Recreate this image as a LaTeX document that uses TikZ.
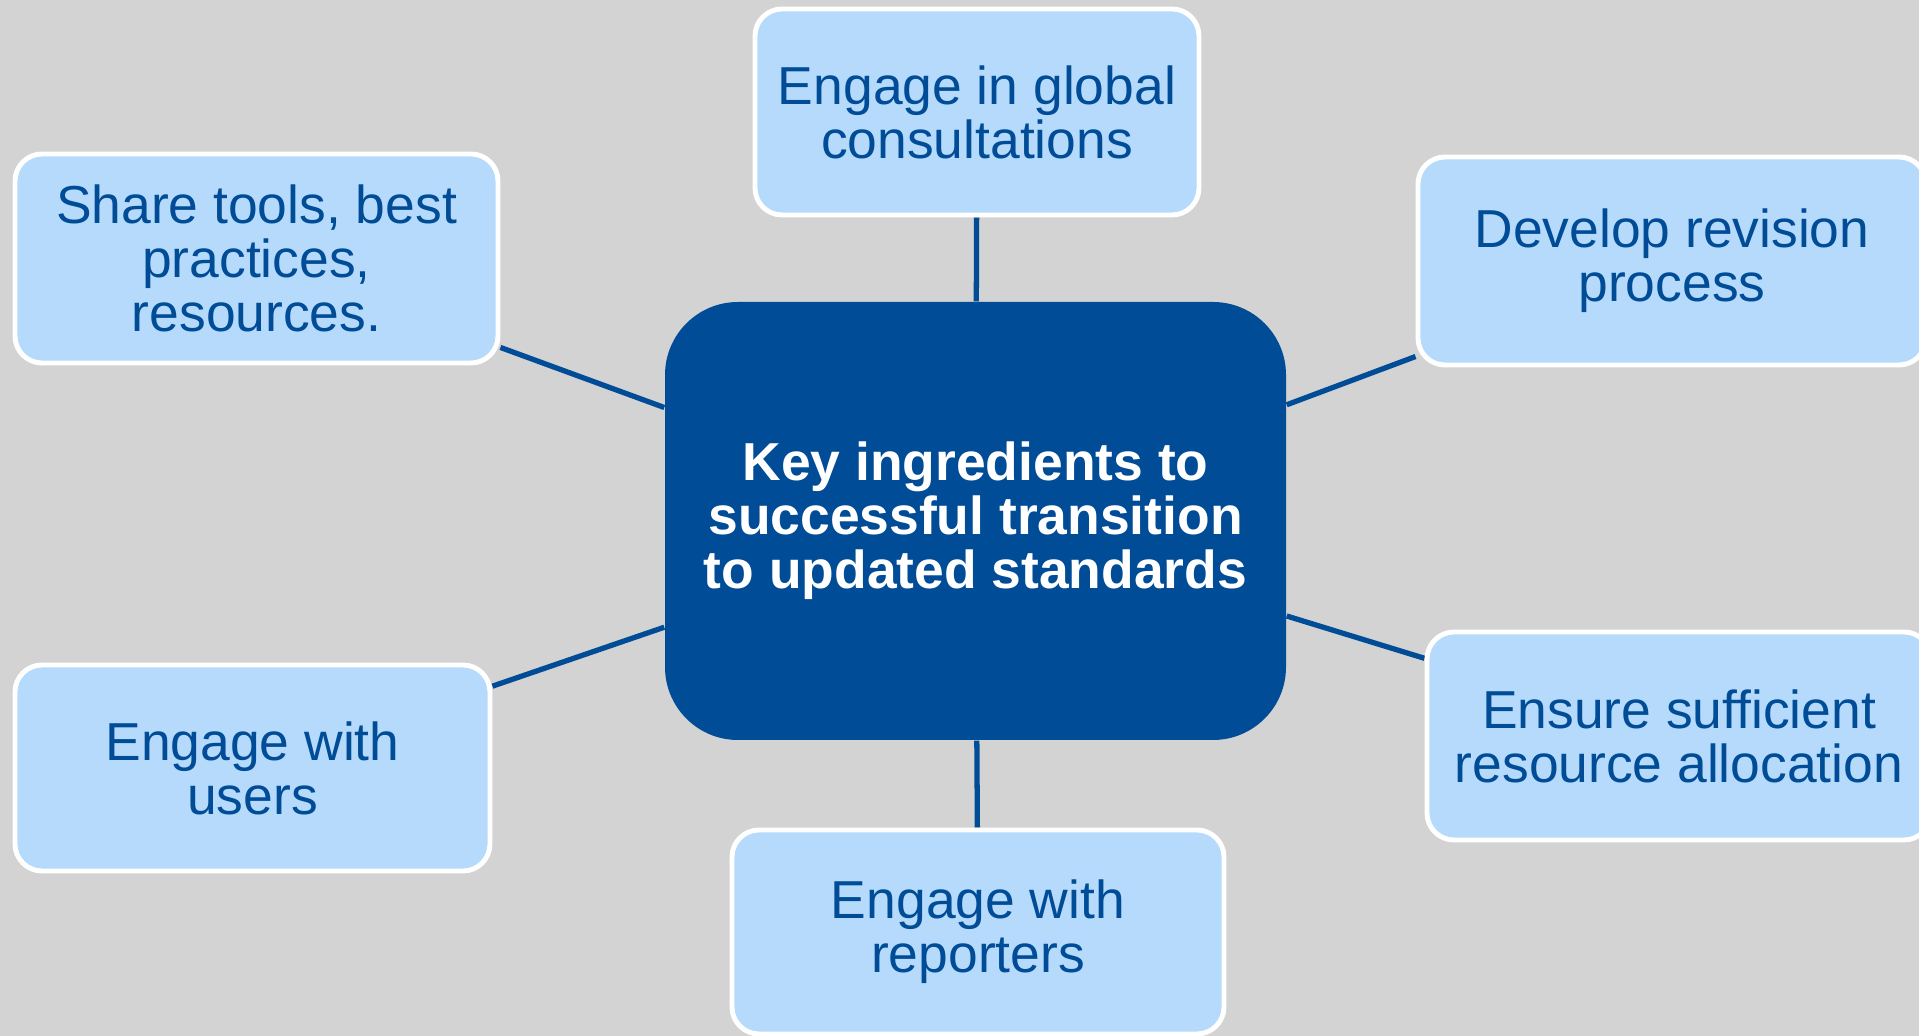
\documentclass[tikz,border=0pt]{standalone}
\usepackage{fontspec}
\setmainfont{Liberation Sans}
\definecolor{darkblue}{HTML}{004C97}
\definecolor{lightblue}{HTML}{B6DAFB}
\definecolor{bggrey}{HTML}{D3D3D3}
\pgfdeclarelayer{lines}
\pgfsetlayers{lines,main}
\begin{document}
\begin{tikzpicture}[
    box/.style={draw=white, line width=1.4pt, fill=lightblue, rounded corners=0.27cm,
      text=darkblue, align=center, inner sep=0pt, font=\fontsize{15.2}{15.4}\selectfont},
    hub/.style={fill=darkblue, rounded corners=0.73cm, text=white, align=center, inner sep=0pt,
      minimum width=6.21cm, minimum height=4.38cm, font=\bfseries\fontsize{15.2}{15.4}\selectfont},
    link/.style={draw=darkblue, line width=1.5pt}]
        \useasboundingbox (0,0) rectangle (19.19,10.36);
        \node[hub] (0) at (9.755,5.15) {Key ingredients to\\successful transition\\to updated standards};
        \node[box, minimum width=4.44cm, minimum height=2.06cm] (1) at (9.77,9.24) {Engage in global\\consultations};
        \node[box, minimum width=4.83cm, minimum height=2.09cm] (2) at (2.565,7.775) {Share tools, best\\practices,\\resources.};
        \node[box, minimum width=5.08cm, minimum height=2.08cm] (3) at (16.72,7.75) {Develop revision\\process};
        \node[box, minimum width=4.75cm, minimum height=2.06cm] (4) at (2.525,2.68) {Engage with\\users};
        \node[box, minimum width=4.92cm, minimum height=2.04cm] (5) at (9.78,1.04) {Engage with\\reporters};
        \node[box, minimum width=5.04cm, minimum height=2.08cm] (6) at (16.79,3.0) {Ensure sufficient\\resource allocation};

        \begin{pgfonlayer}{lines}
        \fill[bggrey] (0,0) rectangle (19.19,10.36);
        \draw[link] (0) -- (1);
        \draw[link] (0) -- (2);
        \draw[link] (0) -- (3);
        \draw[link] (0) -- (4);
        \draw[link] (0) -- (5);
        \draw[link] (0) -- (6);
        \end{pgfonlayer}
      \end{tikzpicture}
\end{document}
